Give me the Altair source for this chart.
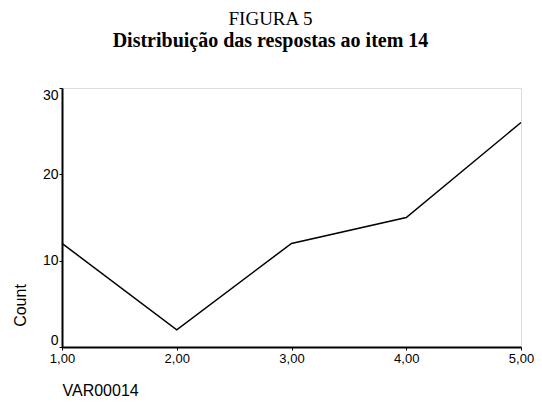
import altair as alt
import pandas as pd

categories = [1, 2, 3, 4, 5]
counts = [12, 2, 12, 15, 26]
y_ticks = [0, 10, 20, 30]

df = pd.DataFrame({"VAR00014": categories, "Count": counts})

label_font = "Liberation Sans"

chart = (
    alt.Chart(df)
    .mark_line(color="black", strokeWidth=1.5)
    .encode(
        x=alt.X(
            "VAR00014:Q",
            scale=alt.Scale(domain=[1, 5], nice=False, zero=False),
            axis=alt.Axis(
                values=categories,
                labelExpr="replace(format(datum.value, '.2f'), '.', ',')",
                title="VAR00014",
                titleX=0,
                titleY=43,
                titleAlign="left",
                titleBaseline="middle",
                titleFontSize=16,
                titleFontWeight="normal",
                titleFont=label_font,
                titleColor="black",
                labelFont=label_font,
                labelFontSize=13,
                labelColor="black",
                labelPadding=2,
                tickSize=3,
                tickColor="black",
                domainColor="black",
                domainWidth=2,
                grid=False,
                labelFlush=False,
            ),
        ),
        y=alt.Y(
            "Count:Q",
            scale=alt.Scale(domain=[0, 30], nice=False),
            axis=alt.Axis(
                values=y_ticks,
                title="Count",
                titleX=-42,
                titleY=217,
                titleAlign="center",
                titleBaseline="middle",
                titleFontSize=16,
                titleFontWeight="normal",
                titleFont=label_font,
                titleColor="black",
                labelFont=label_font,
                labelFontSize=14,
                labelColor="black",
                labelPadding=1,
                labelFlush=True,
                tickSize=3,
                tickColor="black",
                domainColor="black",
                domainWidth=2,
                grid=False,
            ),
        ),
    )
    .properties(
        width=459,
        height=259,
        padding={"left": 54, "top": 80, "right": 13, "bottom": 50},
        autosize=alt.AutoSizeParams(type="none"),
        title=alt.Title(
            "FIGURA 5",
            subtitle="Distribuição das respostas ao item 14",
            anchor="middle",
            dx=-21,
            font="Liberation Serif",
            fontSize=19,
            fontWeight="normal",
            color="black",
            subtitleFont="Liberation Serif",
            subtitleFontSize=20,
            subtitleFontWeight="bold",
            subtitleColor="black",
            subtitlePadding=2,
            offset=37,
        ),
    )
    .configure_view(stroke="black", strokeWidth=1.5)
    .configure(background="white")
)

chart.save("out.html", embed_options={"renderer": "svg", "actions": False})
